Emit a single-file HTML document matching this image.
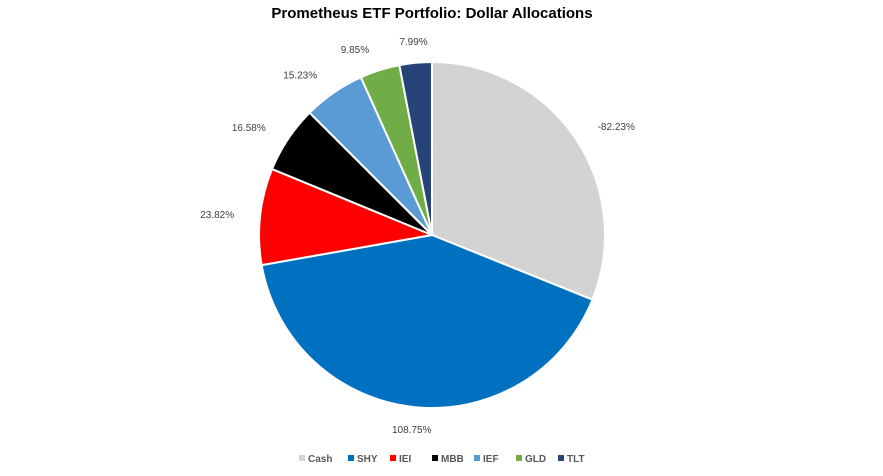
<!DOCTYPE html>
<html><head><meta charset="utf-8"><style>
body{margin:0;background:#fff;font-family:"Liberation Sans",sans-serif}
</style></head><body>
<svg id="chart" width="883" height="471" xmlns="http://www.w3.org/2000/svg">
<text x="432" y="18" text-anchor="middle" font-size="15" font-weight="bold" fill="#000">Prometheus ETF Portfolio: Dollar Allocations</text>
<g id="slices"></g><g id="labels"></g><g id="legend"></g>
</svg>
<script>
const categories=["Cash","SHY","IEI","MBB","IEF","GLD","TLT"];
const values=[-82.23,108.75,23.82,16.58,15.23,9.85,7.99];
const colors=["#d3d3d3","#0070c0","#ff0000","#000000","#5b9bd5","#70ad47","#264478"];
const NS="http://www.w3.org/2000/svg";
const cx=432,cy=235,r=173;
const total=values.reduce((a,v)=>a+Math.abs(v),0);
function pt(a,rad){return [cx+rad*Math.sin(a),cy-rad*Math.cos(a)];}
let a0=0;
const sg=document.getElementById('slices'),lg=document.getElementById('labels');
values.forEach((v,i)=>{
  const a1=a0+Math.abs(v)/total*2*Math.PI;
  const p0=pt(a0,r),p1=pt(a1,r);
  const p=document.createElementNS(NS,'path');
  p.setAttribute('d',`M${cx},${cy}L${p0[0]},${p0[1]}A${r},${r} 0 ${a1-a0>Math.PI?1:0} 1 ${p1[0]},${p1[1]}Z`);
  p.setAttribute('fill',colors[i]);p.setAttribute('stroke','#fff');p.setAttribute('stroke-width','2');
  
  
  sg.appendChild(p);
  const m=(a0+a1)/2;const lp=pt(m,r+22);
  const t=document.createElementNS(NS,'text');
  const s=Math.sin(m);
  t.setAttribute('x',lp[0]+(s>0.3?4:s<-0.3?-4:0));t.setAttribute('y',lp[1]+4);
  t.setAttribute('text-anchor',s>0.3?'start':s<-0.3?'end':'middle');
  t.setAttribute('font-size','10');t.setAttribute('fill','#404040');
  t.textContent=v.toFixed(2)+'%';
  
  
  lg.appendChild(t);
  a0=a1;
});
const leg=document.getElementById('legend');
let x=299;
categories.forEach((c,i)=>{
  const g=document.createElementNS(NS,'g');
  
  
  const rc=document.createElementNS(NS,'rect');
  rc.setAttribute('x',x);rc.setAttribute('y',455);rc.setAttribute('width',6);rc.setAttribute('height',6);rc.setAttribute('fill',colors[i]);
  const t=document.createElementNS(NS,'text');
  t.setAttribute('x',x+9);t.setAttribute('y',462);t.setAttribute('font-size','10');t.setAttribute('font-weight','bold');t.setAttribute('fill','#595959');
  t.textContent=c;
  g.appendChild(rc);g.appendChild(t);leg.appendChild(g);
  x+=9+c.length*7+12;
});
</script>
</body></html>
